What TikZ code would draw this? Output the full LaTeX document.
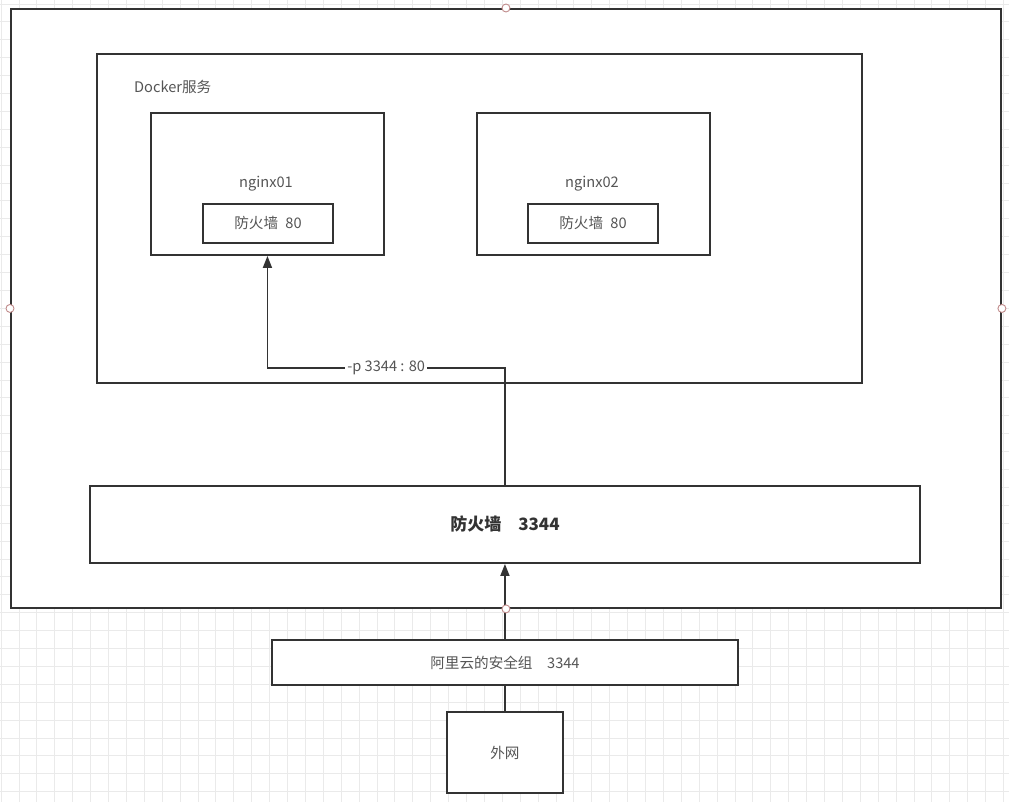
\documentclass[tikz,border=0pt]{standalone}
\usepackage{fontspec}
\setmainfont{Noto Sans CJK SC}
\usetikzlibrary{arrows.meta}
\definecolor{linec}{HTML}{333333}
\definecolor{txtc}{HTML}{555555}
\definecolor{gridc}{HTML}{EAEAEA}
\definecolor{handlec}{HTML}{C08A8A}
\tikzset{
  box/.style={draw=linec, line width=1.9pt, fill=white, inner sep=0pt, anchor=north west},
  lbl/.style={text=txtc, font=\fontsize{14.6}{16}\selectfont, inner sep=1pt},
  arr/.style={draw=linec, line width=1.7pt, -{Triangle[length=12pt,width=9pt]}},
  conn/.style={draw=linec, line width=1.7pt},
  handle/.style={circle, draw=handlec, fill=white, line width=0.9pt, minimum size=8pt, inner sep=0pt}
}
\begin{document}
\begin{tikzpicture}[x=1pt,y=-1pt]
\useasboundingbox (0,0) rectangle (1009,802);
\fill[white] (0,0) rectangle (1009,802);
% grid
\foreach \i in {0,...,57} {\draw[gridc, line width=0.8pt] ({1+17.9*\i},0) -- ({1+17.9*\i},802);}
\foreach \j in {0,...,45} {\draw[gridc, line width=0.8pt] (0,{4+17.9*\j}) -- (1009,{4+17.9*\j});}
% boxes
\node[box, minimum width=990pt, minimum height=599pt] (outer) at (10,8) {};
\node[box, minimum width=765pt, minimum height=329pt] (docker) at (96,53) {};
\node[lbl, anchor=west] (dockerlbl) at (133,87) {Docker服务};
\node[box, minimum width=233pt, minimum height=142pt] (n1) at (150,112) {};
\node[box, minimum width=233pt, minimum height=142pt] (n2) at (476,112) {};
\node[lbl] (n1lbl) at (266,184) {nginx01};
\node[lbl] (n2lbl) at (592,184) {nginx02};
\node[box, minimum width=130pt, minimum height=39pt] (f1) at (202,203) {};
\node[box, minimum width=130pt, minimum height=39pt] (f2) at (527,203) {};
\node[lbl] (f1lbl) at (f1.center) {防火墙\hspace{0.5em}80};
\node[lbl] (f2lbl) at (f2.center) {防火墙\hspace{0.5em}80};
\node[box, minimum width=830pt, minimum height=77pt] (fw) at (89,485) {};
\node[text=linec, font=\fontsize{17}{19}\selectfont\bfseries] (fwlbl) at (fw.center) {防火墙\hspace{1em}3344};
\node[box, minimum width=466pt, minimum height=45pt] (sg) at (271,639) {};
\node[lbl] (sglbl) at (sg.center) {阿里云的安全组\hspace{1em}3344};
\node[box, minimum width=116pt, minimum height=81pt] (wan) at (446,711) {};
\node[lbl] (wanlbl) at (wan.center) {外网};
% connectors
\coordinate (bend) at (fw.north |- 0,368);
\draw[arr] (fw.north) -- (bend) -- node[lbl, fill=white, inner sep=2pt] (plbl) {-p 3344 : 80} (bend -| n1.south) -- (n1.south);
\draw[conn] (wan.north) -- (sg.south);
\draw[arr] (sg.north) -- (fw.south);
% selection handles
\node[handle] (h1) at (outer.north) {};
\node[handle] (h2) at (outer.west) {};
\node[handle] (h3) at (outer.east) {};
\node[handle] (h4) at (outer.south) {};
\end{tikzpicture}
\end{document}
